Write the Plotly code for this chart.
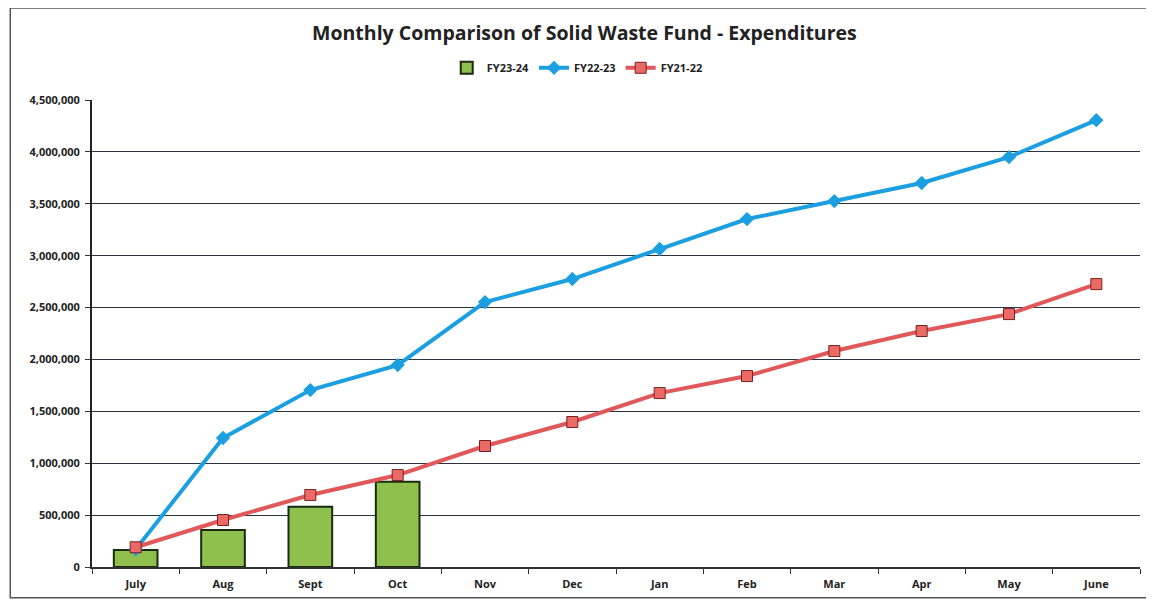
import plotly.graph_objects as go

months = ["July", "Aug", "Sept", "Oct", "Nov", "Dec", "Jan", "Feb", "Mar", "Apr", "May", "June"]
fy2324 = [164000, 356000, 581000, 822000]
fy2223 = [170000, 1243000, 1705000, 1946000, 2553000, 2775000, 3064000, 3353000, 3526000, 3700000, 3950000, 4306000]
fy2122 = [190000, 453000, 694000, 886000, 1166000, 1397000, 1676000, 1840000, 2081000, 2274000, 2437000, 2726000]
y_ticks = [0, 500000, 1000000, 1500000, 2000000, 2500000, 3000000, 3500000, 4000000, 4500000]

font_fam = "Open Sans, Liberation Sans, sans-serif"

fig = go.Figure()
fig.add_trace(go.Bar(
    x=months[:len(fy2324)], y=fy2324, name="FY23-24",
    marker=dict(color="#8fc04e", line=dict(color="#1a2a10", width=2)),
    width=0.5,
))
fig.add_trace(go.Scatter(
    x=months, y=fy2223, name="FY22-23", mode="lines+markers",
    line=dict(color="#1c9fe0", width=4),
    marker=dict(symbol="diamond", size=11, color="#1c9fe0"),
))
fig.add_trace(go.Scatter(
    x=months, y=fy2122, name="FY21-22", mode="lines+markers",
    line=dict(color="#e0585a", width=4),
    marker=dict(symbol="square", size=11, color="#ec6a66", line=dict(color="#7a2020", width=1)),
))

# page body has an 8px margin; figure sized/offset to compensate
fig.update_layout(
    width=1146, height=592,
    margin=dict(l=84, r=14, t=92, b=33, autoexpand=False),
    paper_bgcolor="white", plot_bgcolor="white",
    font=dict(family=font_fam, color="#222"),
    title=dict(text="<b>Monthly Comparison of Solid Waste Fund - Expenditures</b>",
               x=0.503, xanchor="center", y=0.958, yanchor="middle",
               font=dict(size=19.5, family=font_fam, color="#222")),
    legend=dict(orientation="h", x=0.463, xanchor="center", y=1.069, yanchor="middle",
                font=dict(size=11, family=font_fam, color="#222", weight="bold"),
                traceorder="normal", itemwidth=30, tracegroupgap=0,
                bgcolor="rgba(0,0,0,0)"),
    showlegend=True,
    bargap=0.5,
)
fig.update_xaxes(
    type="category", categoryorder="array", categoryarray=months,
    range=[-0.5, len(months) - 0.5],
    showline=True, linecolor="#333", linewidth=1.5,
    ticks="outside", ticklen=5, tickcolor="#333", tickson="boundaries",
    ticklabelstandoff=6,
    tickfont=dict(size=11, family=font_fam, color="#222", weight="bold"),
    showgrid=False,
)
fig.update_yaxes(
    range=[0, 4500000], tickvals=y_ticks,
    ticktext=[f"{v:,}" for v in y_ticks],
    showline=True, linecolor="#222", linewidth=2,
    ticks="outside", ticklen=5, tickcolor="#333",
    ticklabelstandoff=3,
    tickfont=dict(size=11, family=font_fam, color="#222", weight="bold"),
    showgrid=True, gridcolor="#2a3440", gridwidth=1.3,
    zeroline=False,
)
fig.add_shape(type="rect", xref="paper", yref="paper",
              x0=-0.078, x1=1.0095, y0=-0.066, y1=1.197,
              line=dict(color="#555", width=1.5), fillcolor="rgba(0,0,0,0)", layer="below")

fig.write_html("out.html")
